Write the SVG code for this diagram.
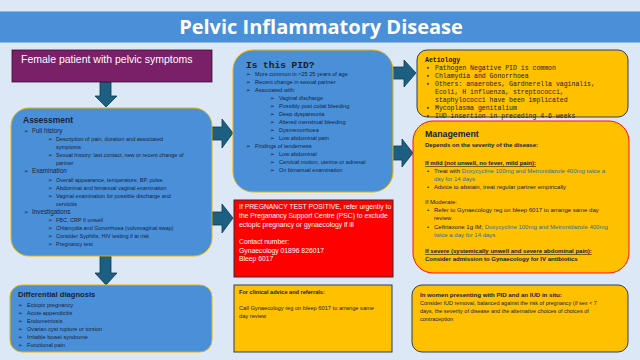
<svg xmlns="http://www.w3.org/2000/svg" width="640" height="360" viewBox="0 0 640 360">
<style>
.bg{fill:#dce8f5}
.blue{fill:#4a90d9;stroke:#e8b400;stroke-width:1}
.yel{fill:#ffc000;stroke:#2f3e52;stroke-width:1}
.arr{fill:#1c5f80;stroke:#0e3a52;stroke-width:0.8}
.s{font-family:"Liberation Sans",Arial,sans-serif;fill:#17223a}
.m{font-family:"Liberation Mono","Courier New",monospace;fill:#1a1a1a}
.b{font-weight:bold}
.bl{font-family:"DejaVu Sans",sans-serif;fill:#17223a}
.drug{fill:#2a6f97}
</style>
<rect class="bg" x="0" y="0" width="640" height="360"/>
<g id="title">
<rect x="0" y="11" width="640" height="32" fill="#4a90d9"/>
<line x1="0" y1="11.5" x2="640" y2="11.5" stroke="#8fbbe6" stroke-width="1"/>
<line x1="0" y1="42.5" x2="640" y2="42.5" stroke="#8fbbe6" stroke-width="1"/>
<text x="321" y="34" text-anchor="middle" font-family="'Open Sans','Liberation Sans',sans-serif" font-weight="bold" font-size="20" fill="#ffffff">Pelvic Inflammatory Disease</text>
</g>
<g id="connectors">
<polygon class="arr" points="100,82 111,82 111,96 117,96 106,107 95,96 100,96"/>
<polygon class="arr" points="100,256 111,256 111,273 117,273 106,285 95,273 100,273"/>
<polygon class="arr" points="212,127 222,127 222,119 233,133 222,148 222,140 212,140"/>
<polygon class="arr" points="212,212 222,212 222,204 233,218 222,233 222,225 212,225"/>
<polygon class="arr" points="393,67 404,67 404,60 416,73 404,87 404,79 393,79"/>
<polygon class="arr" points="393,146 402,146 402,139 413,153 402,167 402,160 393,160"/>
</g>
<g id="start">
<rect x="12" y="50" width="200" height="32" fill="#792069" stroke="#3a1030" stroke-width="0.8"/>
<text x="21" y="63" class="s" font-size="10.5" style="fill:#ffffff">Female patient with pelvic symptoms</text>
</g>
<g id="assessment">
<rect class="blue" x="11" y="108" width="201" height="148" rx="18"/>
<text x="23" y="123" class="s b" font-size="8.5">Assessment</text>
<g font-size="5.5">
<text x="24" y="133" class="bl">➢</text><text x="32" y="133" class="s" font-size="6.3">Full history</text>
<text x="48" y="141" class="bl">➢</text><text x="56" y="141" class="s">Description of pain, duration and associated</text>
<text x="56" y="149" class="s">symptoms</text>
<text x="48" y="157" class="bl">➢</text><text x="56" y="157" class="s">Sexual history: last contact, new or recent change of</text>
<text x="56" y="165" class="s">partner</text>
<text x="24" y="173" class="bl">➢</text><text x="32" y="173" class="s" font-size="6.3">Examination</text>
<text x="48" y="182" class="bl">➢</text><text x="56" y="182" class="s">Overall appearance, temperature,  BP, pulse</text>
<text x="48" y="190" class="bl">➢</text><text x="56" y="190" class="s">Abdominal and bimanual vaginal examination</text>
<text x="48" y="198" class="bl">➢</text><text x="56" y="198" class="s">Vaginal examination for possible discharge and</text>
<text x="56" y="206" class="s">cervicitis</text>
<text x="24" y="214" class="bl">➢</text><text x="32" y="214" class="s" font-size="6.3">Investigations</text>
<text x="48" y="222" class="bl">➢</text><text x="56" y="222" class="s">FBC, CRP if unwell</text>
<text x="48" y="230" class="bl">➢</text><text x="56" y="230" class="s">Chlamydia and Gonorrhoea (vulvovaginal swap)</text>
<text x="48" y="238" class="bl">➢</text><text x="56" y="238" class="s">Consider Syphilis, HIV testing if at risk</text>
<text x="48" y="246" class="bl">➢</text><text x="56" y="246" class="s">Pregnancy test</text>
</g>
</g>
<g id="differential">
<rect class="blue" x="10" y="285" width="202" height="67" rx="12"/>
<text x="18" y="297" class="s b" font-size="7.6">Differential diagnosis</text>
<g font-size="5.6">
<text x="18" y="307" class="bl">➢</text><text x="27" y="307" class="s">Ectopic pregnancy</text>
<text x="18" y="315" class="bl">➢</text><text x="27" y="315" class="s">Acute appendicitis</text>
<text x="18" y="323" class="bl">➢</text><text x="27" y="323" class="s">Endometriosis</text>
<text x="18" y="331" class="bl">➢</text><text x="27" y="331" class="s">Ovarian cyst rupture or torsion</text>
<text x="18" y="339" class="bl">➢</text><text x="27" y="339" class="s">Irritable bowel syndrome</text>
<text x="18" y="347" class="bl">➢</text><text x="27" y="347" class="s">Functional pain</text>
</g>
</g>
<g id="is-pid">
<rect class="blue" x="233" y="50" width="160" height="142" rx="20"/>
<text x="246" y="68" class="m b" font-size="9.5">Is this PID?</text>
<g font-size="5.6">
<text x="246" y="76" class="bl">➢</text><text x="255" y="76" class="s">More common in &lt;25 25 years of age</text>
<text x="246" y="84" class="bl">➢</text><text x="255" y="84" class="s">Recent change in sexual partner</text>
<text x="246" y="92" class="bl">➢</text><text x="255" y="92" class="s">Associated with:</text>
<text x="270" y="100" class="bl">➢</text><text x="279" y="100" class="s">Vaginal discharge</text>
<text x="270" y="108" class="bl">➢</text><text x="279" y="108" class="s">Possibly post coital bleeding</text>
<text x="270" y="116" class="bl">➢</text><text x="279" y="116" class="s">Deep dyspareunia</text>
<text x="270" y="124" class="bl">➢</text><text x="279" y="124" class="s">Altered menstrual bleeding</text>
<text x="270" y="132" class="bl">➢</text><text x="279" y="132" class="s">Dysmenorrhoea</text>
<text x="270" y="140" class="bl">➢</text><text x="279" y="140" class="s">Low abdominal pain</text>
<text x="246" y="148" class="bl">➢</text><text x="255" y="148" class="s">Findings of tenderness</text>
<text x="270" y="156" class="bl">➢</text><text x="279" y="156" class="s">Low abdominal</text>
<text x="270" y="164" class="bl">➢</text><text x="279" y="164" class="s">Cervical motion, uterine or adnexal</text>
<text x="270" y="172" class="bl">➢</text><text x="279" y="172" class="s">On bimanual examination</text>
</g>
</g>
<g id="pregnancy">
<rect x="234" y="200" width="159" height="77" fill="#ff0000" stroke="#3a2a2a" stroke-width="1"/>
<g class="s" font-size="6.8">
<text x="239" y="209" style="fill:#ffffff">If PREGNANCY TEST POSITIVE, refer urgently to</text>
<text x="239" y="218" style="fill:#ffffff">the Preganancy Support Centre (PSC) to exclude</text>
<text x="239" y="227" style="fill:#ffffff">ectopic pregnancy or gynaecology if ill</text>
<text x="239" y="244" style="fill:#ffffff">Contact number:</text>
<text x="239" y="253" style="fill:#ffffff">Gynaecology  01896 826017</text>
<text x="239" y="261" style="fill:#ffffff">Bleep 6017</text>
</g>
</g>
<g id="advice">
<rect class="yel" x="234" y="285" width="158" height="67"/>
<text x="239" y="294" class="s b" font-size="5.6">For clinical advice and referrals:</text>
<text x="239" y="310" class="s" font-size="5.7">Call Gynaecology reg on bleep 6017 to arrange same</text>
<text x="239" y="318" class="s" font-size="5.7">day review</text>
</g>
<g id="aetiology">
<rect class="yel" x="417" y="50" width="211" height="67" rx="10"/>
<g class="m" font-size="6.5">
<text x="425" y="62" class="m b">Aetiology</text>
<text x="426" y="70">▪</text><text x="435" y="70">Pathogen Negative PID is common</text>
<text x="426" y="78">▪</text><text x="435" y="78">Chlamydia and Gonorrhoea</text>
<text x="426" y="86">▪</text><text x="435" y="86">Others: anaerobes, Gardnerella vaginalis,</text>
<text x="435" y="94">Ecoli, H influenza, streptococci,</text>
<text x="435" y="102">staphylococci have been implicated</text>
<text x="426" y="110">▪</text><text x="435" y="110">Mycoplasma genitalium</text>
<text x="426" y="118">▪</text><text x="435" y="118">IUD insertion in preceding 4-6 weeks</text>
</g>
</g>
<g id="management">
<rect x="413" y="121" width="216" height="152" rx="20" fill="#ffc000" stroke="#ff1010" stroke-width="1"/>
<text x="425" y="137" class="s b" font-size="8.8">Management</text>
<text x="425" y="147" class="s b" font-size="6">Depends on the severity of the disease:</text>
<g class="s" font-size="6">
<text x="425" y="165" class="b" text-decoration="underline">If mild (not unwell, no fever, mild pain):</text>
<text x="427" y="173">•</text><text x="434" y="173">Treat with <tspan class="drug">Doxycycline  100mg and  Metronidazole  400mg twice a</tspan></text>
<text x="434" y="181" class="drug">day for 14 days</text>
<text x="427" y="189">•</text><text x="434" y="189">Advice to abstain, treat regular partner empirically</text>
<text x="425" y="204">If Moderate:</text>
<text x="427" y="212">•</text><text x="434" y="212">Refer to Gynaecology reg on bleep 6017 to arrange same day</text>
<text x="434" y="220">review</text>
<text x="427" y="229">•</text><text x="434" y="229">Ceftriaxone 1g IM; <tspan class="drug">Doxycycline  100mg and Metronidazole  400mg</tspan></text>
<text x="434" y="237" class="drug">twice a day for 14 days</text>
<text x="425" y="253" class="b" text-decoration="underline">If severe (systemically  unwell and severe abdominal  pain):</text>
<text x="425" y="261" class="b">Consider admission  to Gynaecology  for IV antibiotics</text>
</g>
</g>
<g id="iud">
<rect class="yel" x="412" y="285" width="216" height="67" rx="10"/>
<text x="420" y="297" class="s b" font-size="6.1">In women presenting with PID and an IUD in situ:</text>
<g class="s" font-size="5.5">
<text x="420" y="305">Consider IUD removal, balanced against the risk of pregnancy (if sex &lt; 7</text>
<text x="420" y="313">days, the severity of disease and the alternative choices of choices of</text>
<text x="420" y="321">contraception</text>
</g>
</g>
</svg>
